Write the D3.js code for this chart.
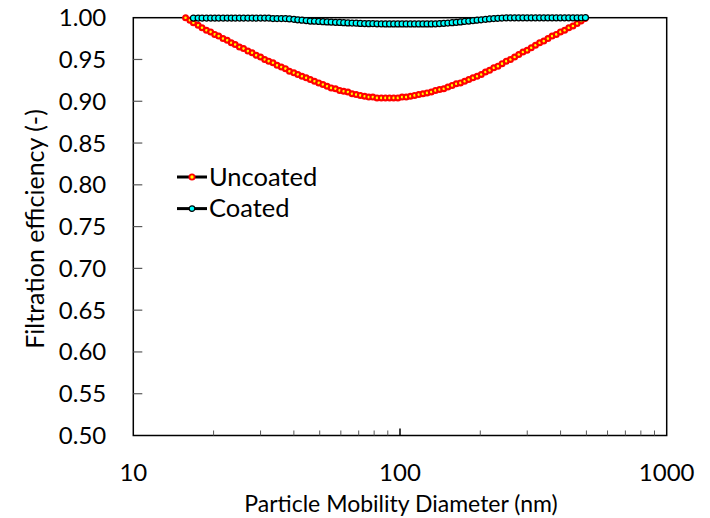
<!DOCTYPE html>
<html>
<head>
<meta charset="utf-8">
<script src="https://cdnjs.cloudflare.com/ajax/libs/d3/7.8.5/d3.min.js"></script>
<style>
  body { margin: 0; background: #fff; }
  svg { display: block; font-family: Lato, "Open Sans", sans-serif; }
</style>
</head>
<body>
<svg id="chart" width="710" height="518"></svg>
<script>
// particle diameters (nm), SMPS channels
const diameters = [15.7, 16.3, 16.8, 17.5, 18.1, 18.8, 19.5, 20.2, 20.9, 21.7,
    22.5, 23.3, 24.1, 25.0, 25.9, 26.9, 27.9, 28.9, 30.0, 31.1,
    32.2, 33.4, 34.6, 35.9, 37.2, 38.5, 40.0, 41.4, 42.9, 44.5,
    46.1, 47.8, 49.6, 51.4, 53.3, 55.2, 57.3, 59.4, 61.5, 63.8,
    66.1, 68.5, 71.0, 73.7, 76.4, 79.1, 82.0, 85.1, 88.2, 91.4,
    94.7, 98.2, 101.8, 105.5, 109.4, 113.4, 117.6, 121.9, 126.3, 131.0,
    135.8, 140.7, 145.9, 151.2, 156.8, 162.5, 168.5, 174.7, 181.1, 187.7,
    194.6, 201.7, 209.1, 216.7, 224.7, 232.9, 241.4, 250.3, 259.5, 269.0,
    278.8, 289.0, 299.6, 310.6, 322.0, 333.8, 346.0, 358.7, 371.8, 385.4,
    399.5, 414.2, 429.4, 445.1, 461.4, 478.3, 495.8];

// filtration efficiency, uncoated filter (one value per diameter)
const uncoated = [1.000, 0.997, 0.994, 0.991, 0.988, 0.985, 0.983, 0.980, 0.978, 0.975,
    0.973, 0.970, 0.968, 0.965, 0.963, 0.960, 0.958, 0.955, 0.953, 0.950,
    0.948, 0.946, 0.943, 0.941, 0.939, 0.936, 0.934, 0.932, 0.930, 0.928,
    0.926, 0.924, 0.922, 0.920, 0.918, 0.916, 0.915, 0.913, 0.912, 0.911,
    0.909, 0.908, 0.907, 0.906, 0.905, 0.905, 0.904, 0.904, 0.904, 0.904,
    0.904, 0.904, 0.905, 0.905, 0.906, 0.907, 0.908, 0.909, 0.910, 0.911,
    0.913, 0.914, 0.915, 0.917, 0.919, 0.921, 0.922, 0.924, 0.926, 0.928,
    0.930, 0.932, 0.935, 0.937, 0.940, 0.942, 0.945, 0.948, 0.950, 0.953,
    0.956, 0.959, 0.961, 0.964, 0.967, 0.970, 0.972, 0.975, 0.978, 0.980,
    0.983, 0.985, 0.988, 0.990, 0.993, 0.996, 0.999];

// filtration efficiency, coated filter (starts at 16.8 nm)
const coatedDiameters = diameters.slice(2);
const coated = [0.9995, 0.9995, 0.9995, 0.9995, 0.9995, 0.9995, 0.9995, 0.9995,
    0.9995, 0.9995, 0.9995, 0.9995, 0.9995, 0.9995, 0.9995, 0.9995, 0.9995, 0.9995, 0.9995,
    0.999, 0.999, 0.999, 0.999, 0.9985, 0.998, 0.9975, 0.997, 0.9965, 0.996,
    0.9958, 0.9955, 0.9953, 0.995, 0.9948, 0.9945, 0.9943, 0.994, 0.9938, 0.9936,
    0.9934, 0.9932, 0.993, 0.9929, 0.9928, 0.9927, 0.9926, 0.9925, 0.9925, 0.9925,
    0.9925, 0.9925, 0.9925, 0.9925, 0.9925, 0.9925, 0.9925, 0.9925, 0.9925, 0.9927,
    0.993, 0.9933, 0.9936, 0.994, 0.9945, 0.995, 0.9955, 0.996, 0.9965, 0.997,
    0.9975, 0.998, 0.9985, 0.999, 0.9993, 0.9996, 0.9998, 0.9998, 0.9998, 0.9998,
    0.9998, 0.9998, 0.9998, 0.9998, 0.9998, 0.9998, 0.9998, 0.9998, 0.9998, 0.9998,
    0.9998, 0.9998, 0.9998, 0.9998, 0.9998];

const yTicks = [0.50, 0.55, 0.60, 0.65, 0.70, 0.75, 0.80, 0.85, 0.90, 0.95, 1.00];
const xTicks = [10, 100, 1000];
const xMinor = [20, 30, 40, 50, 60, 70, 80, 90, 200, 300, 400, 500, 600, 700, 800, 900];
const seriesNames = ['Uncoated', 'Coated'];

const margin = { top: 17.7, right: 43.3, bottom: 82.5, left: 133.3 },
    width = 710 - margin.left - margin.right,
    height = 518 - margin.top - margin.bottom;

const x = d3.scaleLog().domain([10, 1000]).range([0, width]);
const y = d3.scaleLinear().domain([0.5, 1.0]).range([height, 0]);

const svg = d3.select('#chart');
const g = svg.append('g')
    .attr('transform', 'translate(' + margin.left + ',' + margin.top + ')');

// plot frame
g.append('rect')
    .attr('width', width).attr('height', height)
    .attr('fill', 'none').attr('stroke', '#000').attr('stroke-width', 1.5);

// y ticks point inward
g.append('g')
    .selectAll('line')
    .data(yTicks.slice(1, -1))
    .join('line')
    .attr('x1', 0).attr('x2', 9)
    .attr('y1', d => y(d)).attr('y2', d => y(d))
    .attr('stroke', '#595959').attr('stroke-width', 1.2);

g.append('g')
    .attr('font-size', 24)
    .attr('text-anchor', 'end')
    .selectAll('text')
    .data(yTicks)
    .join('text')
    .attr('x', -27)
    .attr('y', d => y(d) + 8.5)
    .text(d => d.toFixed(2));

// x ticks (log), minor inward
g.append('g')
    .selectAll('line')
    .data(xMinor)
    .join('line')
    .attr('x1', d => x(d)).attr('x2', d => x(d))
    .attr('y1', height).attr('y2', height - 5)
    .attr('stroke', '#595959').attr('stroke-width', 1);

g.append('line')
    .attr('x1', x(100)).attr('x2', x(100))
    .attr('y1', height).attr('y2', height - 7)
    .attr('stroke', '#000').attr('stroke-width', 1.5);

g.append('g')
    .attr('font-size', 24)
    .attr('text-anchor', 'middle')
    .selectAll('text')
    .data(xTicks)
    .join('text')
    .attr('x', d => x(d))
    .attr('y', height + 46)
    .text(d => d);

// axis titles
svg.append('text')
    .attr('x', margin.left + x(100) + 1).attr('y', 512)
    .attr('text-anchor', 'middle').attr('font-size', 23)
    .text('Particle Mobility Diameter (nm)');

svg.append('text')
    .attr('transform', 'translate(44,229) rotate(-90)')
    .attr('text-anchor', 'middle').attr('font-size', 25)
    .text('Filtration efficiency (-)');

// series
const line = d3.line().x(d => x(d[0])).y(d => y(d[1]));

const uncoatedPts = diameters.map((d, i) => [d, uncoated[i]]);
const coatedPts = coatedDiameters.map((d, i) => [d, coated[i]]);

g.append('path').datum(uncoatedPts)
    .attr('d', line).attr('fill', 'none')
    .attr('stroke', '#000').attr('stroke-width', 3);
g.append('g').selectAll('circle')
    .data(uncoatedPts).join('circle')
    .attr('cx', d => x(d[0])).attr('cy', d => y(d[1]))
    .attr('r', 2.4)
    .attr('fill', '#ffff00').attr('stroke', '#ff0000').attr('stroke-width', 2.2);

g.append('path').datum(coatedPts)
    .attr('d', line).attr('fill', 'none')
    .attr('stroke', '#000').attr('stroke-width', 3.5);
g.append('g').selectAll('circle')
    .data(coatedPts).join('circle')
    .attr('cx', d => x(d[0])).attr('cy', d => y(d[1]))
    .attr('r', 3)
    .attr('fill', '#00ffff').attr('stroke', '#000').attr('stroke-width', 1.2);

// legend
const legend = svg.append('g').attr('transform', 'translate(177,177)');
const legendStyle = [
    { fill: '#ffff00', stroke: '#ff0000', sw: 1.8, r: 2.6 },
    { fill: '#00ffff', stroke: '#000', sw: 1.2, r: 2.8 }
];
seriesNames.forEach((name, i) => {
    let row = legend.append('g').attr('transform', 'translate(0,' + (i * 31.6) + ')');
    row.append('line')
        .attr('x1', 0).attr('x2', 30)
        .attr('stroke', '#000').attr('stroke-width', 3);
    row.append('circle')
        .attr('cx', 15).attr('r', legendStyle[i].r)
        .attr('fill', legendStyle[i].fill)
        .attr('stroke', legendStyle[i].stroke)
        .attr('stroke-width', legendStyle[i].sw);
    row.append('text')
        .attr('x', 32).attr('y', 8.5)
        .attr('font-size', 25.5)
        .text(name);
});
</script>
</body>
</html>
